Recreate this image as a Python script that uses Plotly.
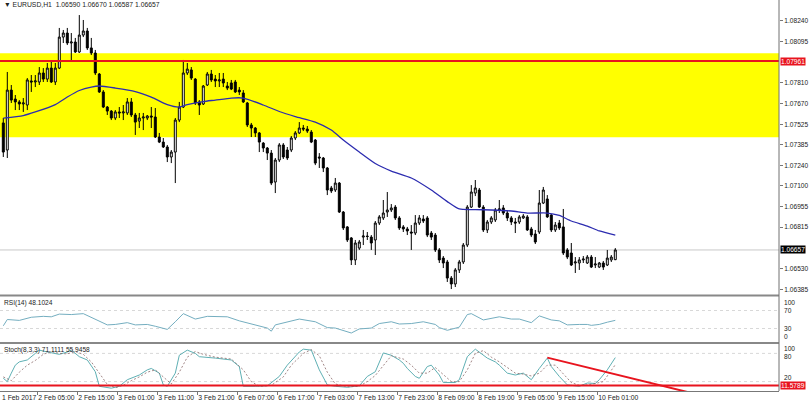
import plotly.graph_objects as go

# ---------------- data ----------------
opens = [1.07534,1.07347,1.07761,1.07699,1.07679,1.07665,1.07658,1.07824,1.07817,1.07817,
         1.07879,1.07837,1.07913,1.07817,1.07913,1.08127,1.08155,1.08086,1.08093,1.08024,
         1.08141,1.08169,1.08052,1.08017,1.07872,1.07748,1.07644,1.07616,1.07568,1.07610,
         1.07603,1.07603,1.07679,1.07589,1.07547,1.07568,1.07568,1.07582,1.07575,1.07437,
         1.07402,1.07368,1.07299,1.07333,1.07554,1.07644,1.07879,1.07900,1.07837,1.07679,
         1.07665,1.07796,1.07872,1.07837,1.07824,1.07837,1.07789,1.07810,1.07817,1.07761,
         1.07741,1.07672,1.07520,1.07499,1.07465,1.07395,1.07361,1.07326,1.07126,1.07278,
         1.07382,1.07347,1.07347,1.07430,1.07465,1.07499,1.07492,1.07471,1.07416,1.07299,
         1.07292,1.07223,1.07085,1.07071,1.07119,1.06919,1.06816,1.06740,1.06588,1.06670,
         1.06746,1.06753,1.06746,1.06726,1.06843,1.06878,1.06919,1.06933,1.06953,1.06878,
         1.06816,1.06802,1.06781,1.06774,1.06843,1.06871,1.06878,1.06774,1.06760,1.06657,
         1.06601,1.06574,1.06463,1.06422,1.06519,1.06574,1.06691,1.06953,1.07050,1.07071,
         1.06953,1.06795,1.06850,1.06864,1.06933,1.06947,1.06912,1.06878,1.06850,1.06850,
         1.06878,1.06885,1.06802,1.06767,1.06781,1.06981,1.07009,1.06898,1.06795,1.06843,
         1.06816,1.06657,1.06636,1.06567,1.06567,1.06588,1.06567,1.06608,1.06553,1.06539,
         1.06567,1.06553,1.06588,1.06590]
highs = [1.07568,1.07886,1.07796,1.07727,1.07692,1.07706,1.07844,1.07865,1.07865,1.07920,
         1.07913,1.07948,1.07955,1.07948,1.08190,1.08176,1.08190,1.08155,1.08121,1.08279,
         1.08245,1.08190,1.08121,1.08038,1.07879,1.07761,1.07651,1.07623,1.07623,1.07644,
         1.07658,1.07706,1.07706,1.07603,1.07603,1.07603,1.07589,1.07644,1.07637,1.07465,
         1.07430,1.07382,1.07347,1.07568,1.07679,1.07969,1.07948,1.07920,1.07844,1.07692,
         1.07796,1.07886,1.07900,1.07865,1.07879,1.07879,1.07817,1.07831,1.07831,1.07782,
         1.07761,1.07679,1.07534,1.07506,1.07471,1.07402,1.07368,1.07347,1.07292,1.07395,
         1.07395,1.07368,1.07444,1.07478,1.07540,1.07520,1.07513,1.07485,1.07423,1.07326,
         1.07299,1.07230,1.07099,1.07154,1.07126,1.06926,1.06822,1.06746,1.06726,1.06726,
         1.06795,1.06781,1.06760,1.06857,1.06898,1.07002,1.07057,1.06974,1.06967,1.06891,
         1.06829,1.06816,1.06829,1.06898,1.06898,1.06898,1.06891,1.06788,1.06774,1.06670,
         1.06615,1.06588,1.06477,1.06532,1.06588,1.06705,1.06967,1.07105,1.07140,1.07085,
         1.06967,1.06864,1.06891,1.06947,1.07002,1.06967,1.06926,1.06891,1.06878,1.06898,
         1.06905,1.06898,1.06816,1.06795,1.07071,1.07092,1.07036,1.06905,1.06850,1.06864,
         1.06940,1.06670,1.06705,1.06608,1.06608,1.06615,1.06622,1.06622,1.06608,1.06574,
         1.06581,1.06657,1.06622,1.06670]
lows = [1.07299,1.07292,1.07672,1.07623,1.07623,1.07610,1.07623,1.07748,1.07782,1.07796,
        1.07817,1.07817,1.07810,1.07796,1.07906,1.08086,1.08072,1.07955,1.08017,1.08017,
        1.08127,1.08038,1.08003,1.07865,1.07741,1.07637,1.07589,1.07554,1.07554,1.07568,
        1.07554,1.07589,1.07575,1.07451,1.07499,1.07485,1.07554,1.07499,1.07430,1.07395,
        1.07361,1.07264,1.07257,1.07119,1.07540,1.07637,1.07865,1.07831,1.07658,1.07589,
        1.07658,1.07789,1.07817,1.07782,1.07782,1.07782,1.07761,1.07761,1.07741,1.07727,
        1.07672,1.07506,1.07437,1.07437,1.07333,1.07333,1.07278,1.07105,1.07050,1.07264,
        1.07285,1.07278,1.07333,1.07416,1.07458,1.07478,1.07465,1.07395,1.07243,1.07223,
        1.07195,1.07036,1.07050,1.07057,1.06912,1.06795,1.06712,1.06553,1.06553,1.06657,
        1.06691,1.06726,1.06657,1.06622,1.06829,1.06864,1.06885,1.06919,1.06864,1.06795,
        1.06781,1.06760,1.06657,1.06760,1.06829,1.06843,1.06746,1.06726,1.06643,1.06567,
        1.06532,1.06436,1.06387,1.06401,1.06498,1.06560,1.06677,1.06947,1.07029,1.06947,
        1.06781,1.06774,1.06836,1.06850,1.06912,1.06898,1.06857,1.06829,1.06774,1.06836,
        1.06871,1.06788,1.06746,1.06698,1.06767,1.06974,1.06878,1.06781,1.06781,1.06795,
        1.06622,1.06594,1.06546,1.06498,1.06519,1.06567,1.06560,1.06532,1.06532,1.06532,
        1.06519,1.06546,1.06574,1.06587]
closes = [1.07333,1.07761,1.07692,1.07679,1.07665,1.07672,1.07831,1.07817,1.07824,1.07879,
          1.07837,1.07913,1.07817,1.07913,1.08127,1.08155,1.08086,1.08093,1.08024,1.08141,
          1.08169,1.08052,1.08017,1.07879,1.07748,1.07644,1.07616,1.07568,1.07610,1.07603,
          1.07610,1.07679,1.07589,1.07540,1.07568,1.07575,1.07582,1.07575,1.07437,1.07402,
          1.07368,1.07299,1.07333,1.07554,1.07644,1.07879,1.07906,1.07844,1.07672,1.07658,
          1.07789,1.07872,1.07831,1.07824,1.07831,1.07810,1.07775,1.07768,1.07748,1.07748,
          1.07679,1.07520,1.07499,1.07465,1.07402,1.07361,1.07326,1.07119,1.07278,1.07382,
          1.07299,1.07292,1.07430,1.07465,1.07499,1.07492,1.07478,1.07402,1.07257,1.07292,
          1.07223,1.07071,1.07064,1.07119,1.06919,1.06809,1.06726,1.06588,1.06705,1.06712,
          1.06753,1.06750,1.06705,1.06843,1.06885,1.06912,1.06933,1.06947,1.06878,1.06809,
          1.06802,1.06788,1.06774,1.06843,1.06878,1.06857,1.06760,1.06746,1.06657,1.06588,
          1.06567,1.06463,1.06422,1.06519,1.06574,1.06691,1.06953,1.07057,1.07085,1.06953,
          1.06795,1.06850,1.06878,1.06933,1.06940,1.06912,1.06878,1.06850,1.06843,1.06885,
          1.06891,1.06795,1.06760,1.06712,1.06981,1.07071,1.06885,1.06795,1.06829,1.06809,
          1.06636,1.06608,1.06553,1.06574,1.06588,1.06594,1.06608,1.06539,1.06560,1.06567,
          1.06539,1.06601,1.06608,1.06657]
bar_idx = list(range(len(opens)))

ma_idx = [0,5,8,13,16,19,22,24,28,33,37,41,44,46,50,53,57,60,65,69,73,78,82,85,89,93,97,
          102,107,111,114,118,122,127,131,136,139,142,146,149,153]
ma_val = [1.07568,1.07585,1.07610,1.07661,1.07713,1.07758,1.07782,1.07789,1.07775,1.07751,
          1.07713,1.07661,1.07644,1.07661,1.07682,1.07692,1.07706,1.07706,1.07658,1.07613,
          1.07578,1.07540,1.07485,1.07416,1.07333,1.07254,1.07202,1.07154,1.07071,1.06991,
          1.06940,1.06936,1.06933,1.06926,1.06912,1.06912,1.06895,1.06857,1.06822,1.06788,
          1.06760]

rsi_idx = [0,1,4,7,10,12,14,17,20,23,26,28,31,33,36,38,41,43,45,48,51,56,59,66,67,68,71,74,
           78,81,83,87,89,92,94,97,99,102,105,108,109,111,114,116,117,120,124,127,129,132,
           134,137,139,141,144,146,147,149,151,153]
rsi_val = [36,50,48,55,57,56,62,61,63,50,38,39,43,38,39,35,28,45,63,51,57,56,47,31,24,38,45,
           51,45,32,31,20,29,31,41,45,40,41,45,39,32,26,33,61,63,49,56,51,51,43,58,49,47,38,
           39,39,37,39,44,48.1024]

stoch_main_idx = [0,1,2,3,4,6,8,9,11,13,14,16,17,19,21,23,24,27,29,31,34,36,37,39,40,41,43,
                  44,46,48,49,53,57,59,60,63,66,69,71,74,75,77,79,81,83,86,89,91,93,95,97,99,
                  100,101,103,104,106,107,109,110,113,114,116,118,119,121,123,124,126,128,
                  130,132,134,136,137,139,141,144,146,148,149,151,153]
stoch_main_val = [27,20,38,55,62,66,80,87,83,79,78,83,87,73,66,41,10,6,10,24,34,45,48,38,13,
                  10,38,76,87,80,73,70,66,52,10,10,11,31,55,83,89,87,45,13,10,8,11,31,41,81,
                  76,66,59,48,31,27,52,55,34,18,18,24,73,89,83,70,62,55,38,34,38,24,48,70,52,
                  31,13,10,17,16,24,45,71.1111]
stoch_sig_idx = [0,2,4,6,8,10,12,14,16,18,20,22,24,26,28,30,32,34,36,38,40,42,44,46,48,50,
                 53,57,60,62,64,67,70,72,75,77,79,81,83,86,89,91,93,95,97,100,102,104,106,
                 108,110,112,114,116,118,120,122,124,126,128,130,132,134,136,138,140,142,
                 144,146,148,150,153]
stoch_sig_val = [30,22,40,55,65,78,84,80,79,84,78,62,38,14,7,12,22,30,40,45,30,15,40,72,84,
                 78,72,68,45,20,10,12,30,55,80,88,75,40,15,9,10,20,33,55,75,68,55,38,38,50,
                 36,20,20,45,80,86,72,62,50,38,36,32,38,55,55,36,18,12,13,16,20,55.9458]

price_ticks = [1.08240,1.08095,1.07810,1.07670,1.07525,1.07385,1.07240,1.07100,1.06955,
               1.06815,1.06530,1.06385]
date_labels = ["1 Feb 2017","2 Feb 05:00","2 Feb 15:00","3 Feb 01:00","3 Feb 11:00",
               "3 Feb 21:00","6 Feb 07:00","6 Feb 17:00","7 Feb 03:00","7 Feb 13:00",
               "7 Feb 23:00","8 Feb 09:00","8 Feb 19:00","9 Feb 05:00","9 Feb 15:00",
               "10 Feb 01:00"]
date_idx = [-1,9,19,29,39,49,59,69,79,89,99,109,119,129,139,149]

zone_top, zone_bottom = 1.08015, 1.07435
resistance = 1.07961
stoch_level = 11.5789
trend_idx = [136, 171]
trend_val = [71, -2]
rsi_levels = [70, 30]
stoch_levels = [80, 20]

# ---------------- figure ----------------
W, H = 809, 403
ML, MR, MT, MB = 0, 30, 0, 12
PH = H - MT - MB  # plot height in px

def pfrac(y_px):  # px from top of plot area -> paper fraction
    return 1 - y_px / PH

FONT = "Liberation Sans"
TXT = "#222222"
fig = go.Figure()

fig.add_trace(go.Candlestick(
    x=bar_idx, open=opens, high=highs, low=lows, close=closes,
    increasing=dict(line=dict(color="black", width=1), fillcolor="white"),
    decreasing=dict(line=dict(color="black", width=1), fillcolor="black"),
    whiskerwidth=0, xaxis="x", yaxis="y", hoverinfo="skip", showlegend=False))

fig.add_trace(go.Scatter(x=ma_idx, y=ma_val, mode="lines", xaxis="x", yaxis="y",
                         line=dict(color="#2c2cb0", width=1.3, shape="spline", smoothing=0.6),
                         hoverinfo="skip"))

fig.add_trace(go.Scatter(x=rsi_idx, y=rsi_val, mode="lines", xaxis="x", yaxis="y2",
                         line=dict(color="#74aec0", width=1), hoverinfo="skip"))

fig.add_trace(go.Scatter(x=stoch_main_idx, y=stoch_main_val, mode="lines", xaxis="x", yaxis="y3",
                         line=dict(color="#5fb0b4", width=1), hoverinfo="skip"))
fig.add_trace(go.Scatter(x=stoch_sig_idx, y=stoch_sig_val, mode="lines", xaxis="x", yaxis="y3",
                         line=dict(color="#8a6a6a", width=0.8, dash="2px,2px"), hoverinfo="skip"))

shapes = []
shapes.append(dict(type="rect", xref="paper", yref="y", x0=0, x1=1, y0=zone_bottom, y1=zone_top,
                   fillcolor="#ffff00", line=dict(width=0), layer="below"))
shapes.append(dict(type="line", xref="paper", yref="y", x0=0, x1=1, y0=closes[-1], y1=closes[-1],
                   line=dict(color="#c8c8c8", width=1), layer="below"))
shapes.append(dict(type="line", xref="paper", yref="y", x0=0, x1=1, y0=resistance, y1=resistance,
                   line=dict(color="#e8141e", width=2), layer="above"))
for lv in rsi_levels:
    shapes.append(dict(type="line", xref="paper", yref="y2", x0=0, x1=1, y0=lv, y1=lv,
                       line=dict(color="#d8d8d8", width=1, dash="dot"), layer="below"))
for lv in stoch_levels:
    shapes.append(dict(type="line", xref="paper", yref="y3", x0=0, x1=1, y0=lv, y1=lv,
                       line=dict(color="#d8d8d8", width=1, dash="dot"), layer="below"))
shapes.append(dict(type="line", xref="paper", yref="y3", x0=0, x1=1, y0=stoch_level, y1=stoch_level,
                   line=dict(color="#e8141e", width=2), layer="above"))
shapes.append(dict(type="line", xref="x", yref="y3", x0=trend_idx[0], x1=trend_idx[1],
                   y0=trend_val[0], y1=trend_val[1], line=dict(color="#e8141e", width=2)))
for ypx in (295.5, 343.0):
    shapes.append(dict(type="line", xref="paper", yref="paper", x0=0, x1=1,
                       y0=pfrac(ypx), y1=pfrac(ypx), line=dict(color="#888888", width=2)))
shapes.append(dict(type="line", xref="paper", yref="paper", x0=1, x1=1, y0=0, y1=1,
                   line=dict(color="#707070", width=1)))
fig.update_layout(shapes=shapes)

lab = dict(family=FONT, size=6.6, color=TXT)
ann = []
hdr = "\u25bc EURUSD,H1  %.5f %.5f %.5f %.5f" % (opens[-1], highs[-1], lows[-1], closes[-1])
ann.append(dict(text=hdr, xref="paper", yref="paper", x=0.002, y=1, xanchor="left", yanchor="top",
                yshift=1, showarrow=False, font=dict(family=FONT, size=6.8, color=TXT)))
ann.append(dict(text="RSI(14) %.4f" % rsi_val[-1], xref="paper", yref="paper", x=0.002,
                y=pfrac(297), xanchor="left", yanchor="top", showarrow=False, font=lab))
ann.append(dict(text="Stoch(8,3,3) %.4f %.4f" % (stoch_main_val[-1], stoch_sig_val[-1]),
                xref="paper", yref="paper", x=0.002, y=pfrac(344), xanchor="left", yanchor="top",
                showarrow=False, font=lab))
for txt, yref, yv, bg in (("%.5f" % resistance, "y", resistance, "#e8141e"),
                          ("%.5f" % closes[-1], "y", closes[-1], "#000000"),
                          ("%.4f" % stoch_level, "y3", stoch_level, "#e8141e")):
    ann.append(dict(text=txt, xref="paper", yref=yref, x=1, y=yv, xanchor="left",
                    showarrow=False, bgcolor=bg, font=dict(family=FONT, size=6.6, color="white"),
                    borderpad=0, xshift=1))
# right-side labels of the sub panes
ann.append(dict(text="100", xref="paper", yref="paper", x=1, y=pfrac(297), xanchor="left",
                yanchor="top", xshift=3, showarrow=False, font=lab))
ann.append(dict(text="0", xref="paper", yref="paper", x=1, y=pfrac(342), xanchor="left",
                yanchor="bottom", xshift=3, showarrow=False, font=lab))
for lv in rsi_levels:
    ann.append(dict(text=str(lv), xref="paper", yref="y2", x=1, y=lv, xanchor="left",
                    xshift=3, showarrow=False, font=lab))
ann.append(dict(text="100", xref="paper", yref="paper", x=1, y=pfrac(343.5), xanchor="left",
                yanchor="top", xshift=3, yshift=1, showarrow=False, font=lab))
ann.append(dict(text=str(stoch_levels[0]), xref="paper", yref="y3", x=1, y=stoch_levels[0],
                xanchor="left", yanchor="top", xshift=3, yshift=2, showarrow=False, font=lab))
ann.append(dict(text=str(stoch_levels[1]), xref="paper", yref="y3", x=1, y=stoch_levels[1],
                xanchor="left", yanchor="bottom", xshift=3, yshift=-1, showarrow=False, font=lab))
ann.append(dict(text=date_labels[0], xref="paper", yref="paper", x=0, y=0, xanchor="left",
                yanchor="top", yshift=-1, showarrow=False,
                font=dict(family=FONT, size=6.8, color=TXT)))
fig.update_layout(annotations=ann)

tickfont = dict(family=FONT, size=6.6, color=TXT)
fig.update_layout(
    width=W, height=H, margin=dict(l=ML, r=MR, t=MT, b=MB, autoexpand=False),
    paper_bgcolor="white", plot_bgcolor="white", showlegend=False,
    xaxis=dict(domain=[0, 1], anchor="y3", range=[-0.825, 193.925], showgrid=False,
               zeroline=False, rangeslider=dict(visible=False), automargin=False,
               tickvals=[i - 0.5 for i in date_idx[1:]], ticktext=date_labels[1:],
               tickangle=0, ticks="outside", ticklen=3, tickcolor="#777",
               showline=True, linecolor="#777", ticklabelposition="outside right",
               tickfont=dict(family=FONT, size=6.8, color=TXT)),
    yaxis=dict(domain=[pfrac(295), 1], anchor="x", side="right", automargin=False,
               range=[1.06346, 1.08383], showgrid=False, zeroline=False,
               tickvals=price_ticks, ticktext=["%.5f" % v for v in price_ticks],
               ticks="outside", ticklen=3, tickcolor="#777", tickfont=tickfont),
    yaxis2=dict(domain=[pfrac(342), pfrac(297)], anchor="x", side="right", range=[0, 100],
                showgrid=False, zeroline=False, showticklabels=False, automargin=False,
                ticks=""),
    yaxis3=dict(domain=[0, pfrac(344)], anchor="x", side="right", range=[0, 100],
                showgrid=False, zeroline=False, showticklabels=False, automargin=False,
                ticks=""),
)

fig.write_html("out.html")
